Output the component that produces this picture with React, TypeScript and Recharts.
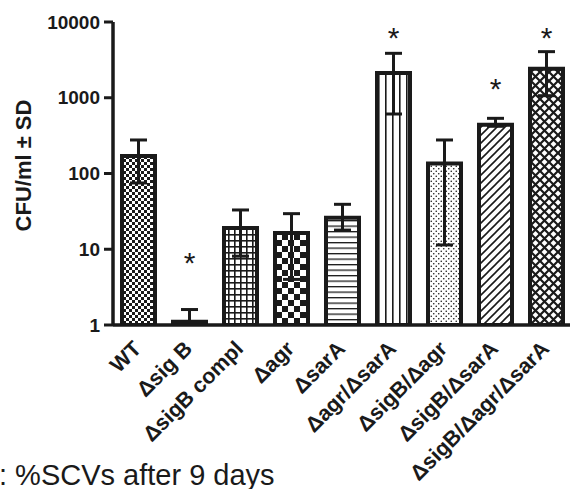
import React from 'react';
import { ComposedChart, Bar, XAxis, YAxis, ErrorBar, Cell, Scatter } from 'recharts';

const categories = ['WT', 'Δsig B', 'ΔsigB compl', 'Δagr', 'ΔsarA', 'Δagr/ΔsarA', 'ΔsigB/Δagr', 'ΔsigB/ΔsarA', 'ΔsigB/Δagr/ΔsarA'];
const means = [170, 1.1, 19.1, 16.4, 26.1, 2120, 136, 441, 2420];
const upperWhisker = [277, 1.6, 33, 29.5, 39.2, 3860, 277, 535, 4060];
const lowerWhisker = [75, 1.1, 8.1, 4, 17.9, 610, 11.4, 420, 1065];
const starPositions: (number | null)[] = [null, 7.9, null, null, null, 7380, null, 1565, 7380];
const yTicks = [1, 10, 100, 1000, 10000];

const patternIds = ['pFineCheck', 'pSolid', 'pGrid', 'pBigCheck', 'pHLines', 'pVLines', 'pDots', 'pDiag', 'pDiamond'];

const data = categories.map((name, i) => ({
  name,
  mean: means[i],
  err: [means[i] - lowerWhisker[i], upperWhisker[i] - means[i]],
  star: starPositions[i],
}));

const INK = '#1a1a1a';
const FONT = '"Liberation Sans", Arial, Helvetica, sans-serif';

const XTick = (props: any) => {
  const { x, y, payload } = props;
  const ax = x + 4;
  const ay = y + 25;
  return (
    <text
      x={ax}
      y={ay}
      transform={`rotate(-45, ${ax}, ${ay})`}
      textAnchor="end"
      fontFamily={FONT}
      fontWeight="bold"
      fontSize={21.5}
      fill={INK}
    >
      {payload.value}
    </text>
  );
};

const StarShape = (props: any) => {
  const { cx, cy, payload } = props;
  if (payload == null || payload.star == null || !isFinite(cy)) return <g />;
  return (
    <text x={cx} y={cy + 16} textAnchor="middle" fontFamily={FONT} fontSize={30} fill={INK}>
      *
    </text>
  );
};

const YLabel = (props: any) => {
  const vb = props.viewBox || { y: 22, height: 303 };
  const cy = vb.y + vb.height / 2 - 8;
  return (
    <text
      x={31}
      y={cy}
      transform={`rotate(-90, 31, ${cy})`}
      textAnchor="middle"
      fontFamily={FONT}
      fontWeight="bold"
      fontSize={22}
      fill={INK}
    >
      CFU/ml ± SD
    </text>
  );
};

export default function App() {
  return (
    <div style={{ position: 'absolute', left: 0, top: 0, width: 570, height: 489, overflow: 'hidden', background: '#fff' }}>
      <ComposedChart
        width={580}
        height={489}
        data={data}
        margin={{ top: 22, right: 8, bottom: 0, left: 0 }}
        barCategoryGap={0}
      >
        <defs>
          <pattern id="pFineCheck" width="6" height="6" patternUnits="userSpaceOnUse">
            <rect width="6" height="6" fill="#fff" />
            <rect width="3" height="3" fill={INK} />
            <rect x="3" y="3" width="3" height="3" fill={INK} />
          </pattern>
          <pattern id="pSolid" width="4" height="4" patternUnits="userSpaceOnUse">
            <rect width="4" height="4" fill={INK} />
          </pattern>
          <pattern id="pGrid" width="6" height="6" patternUnits="userSpaceOnUse">
            <rect width="6" height="6" fill="#fff" />
            <rect width="6" height="1.6" fill={INK} />
            <rect width="1.6" height="6" fill={INK} />
          </pattern>
          <pattern id="pBigCheck" width="12" height="12" patternUnits="userSpaceOnUse">
            <rect width="12" height="12" fill="#fff" />
            <rect width="6" height="6" fill={INK} />
            <rect x="6" y="6" width="6" height="6" fill={INK} />
          </pattern>
          <pattern id="pHLines" width="6" height="5.5" patternUnits="userSpaceOnUse">
            <rect width="6" height="5.5" fill="#fff" />
            <rect width="6" height="1.3" fill={INK} />
          </pattern>
          <pattern id="pVLines" width="7" height="7" patternUnits="userSpaceOnUse">
            <rect width="7" height="7" fill="#fff" />
            <rect width="1.6" height="7" fill={INK} />
          </pattern>
          <pattern id="pDots" width="5" height="5" patternUnits="userSpaceOnUse">
            <rect width="5" height="5" fill="#fff" />
            <circle cx="1.25" cy="1.25" r="0.8" fill={INK} />
            <circle cx="3.75" cy="3.75" r="0.8" fill={INK} />
          </pattern>
          <pattern id="pDiag" width="8" height="8" patternUnits="userSpaceOnUse">
            <rect width="8" height="8" fill="#fff" />
            <path d="M-2,2 L2,-2 M0,8 L8,0 M6,10 L10,6" stroke={INK} strokeWidth="1.6" />
          </pattern>
          <pattern id="pDiamond" width="9" height="9" patternUnits="userSpaceOnUse">
            <rect width="9" height="9" fill="#fff" />
            <path d="M0,0 L9,9 M9,0 L0,9" stroke={INK} strokeWidth="2.2" />
          </pattern>
        </defs>
        <XAxis
          dataKey="name"
          interval={0}
          height={164}
          tickLine={false}
          tickSize={0}
          tickMargin={0}
          axisLine={{ stroke: INK, strokeWidth: 3.5 }}
          tick={<XTick />}
        />
        <YAxis
          scale="log"
          type="number"
          domain={[1, 10000]}
          ticks={yTicks}
          allowDataOverflow
          width={113}
          tickSize={9}
          tickMargin={4}
          axisLine={{ stroke: INK, strokeWidth: 3.5 }}
          tickLine={{ stroke: INK, strokeWidth: 3 }}
          tick={{ fill: INK, fontSize: 19, fontWeight: 'bold', fontFamily: FONT }}
          label={{ content: (p: any) => <YLabel {...p} /> }}
        />
        <Bar dataKey="mean" barSize={33} stroke={INK} strokeWidth={4} isAnimationActive={false}>
          {data.map((d, i) => (
            <Cell key={d.name} fill={`url(#${patternIds[i]})`} />
          ))}
          <ErrorBar dataKey="err" width={8.5} stroke={INK} strokeWidth={3} isAnimationActive={false} />
        </Bar>
        <Scatter dataKey="star" shape={<StarShape />} isAnimationActive={false} />
      </ComposedChart>
      <svg width={570} height={489} style={{ position: 'absolute', left: 0, top: 0, pointerEvents: 'none' }}>
        <text x={-1} y={485} fontFamily={FONT} fontSize={29} fill={INK}>
          : %SCVs after 9 days
        </text>
      </svg>
    </div>
  );
}
